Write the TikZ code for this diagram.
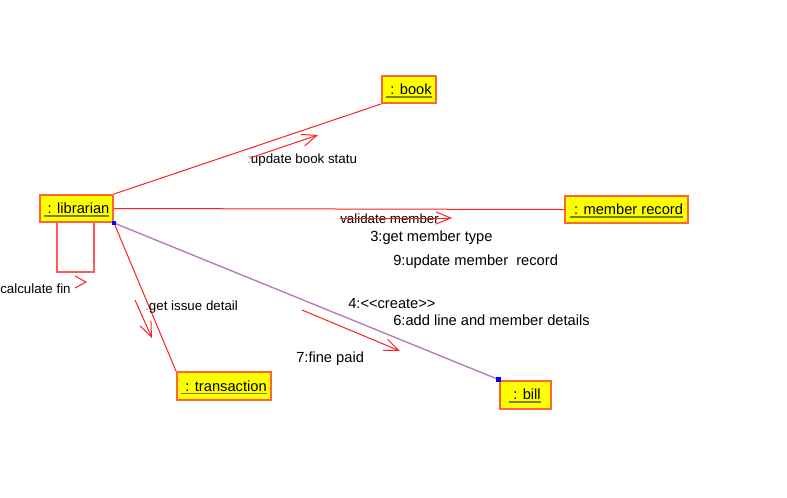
\documentclass[tikz,border=0pt]{standalone}
\usepackage{fontspec}
\setmainfont{Liberation Sans}[Ligatures=TeXOff]
\usetikzlibrary{arrows.meta,calc}
\definecolor{boxfill}{HTML}{FFFF00}
\definecolor{boxline}{HTML}{FF6633}
\definecolor{msgred}{HTML}{FF2020}
\definecolor{loopred}{HTML}{FF5A5A}
\definecolor{linkpurple}{HTML}{B878B8}
\definecolor{ulinecol}{HTML}{808000}
\definecolor{colonblue}{HTML}{70A8E0}
\newcommand\objname[1]{\setbox0\hbox{#1}\rlap{\smash{\color{ulinecol}\rule[-2.4pt]{\wd0}{1.3pt}}}\box0}
\begin{document}
\begin{tikzpicture}[x=0.75pt,y=-0.75pt,
  obj/.style={draw=boxline, line width=1.5pt, fill=boxfill, inner sep=0pt,
    minimum height=20.25pt, font=\fontsize{11}{13}\selectfont},
  link/.style={draw=msgred, line width=0.75pt},
  purplelink/.style={draw=linkpurple, line width=1pt},
  loopline/.style={draw=loopred, line width=1.1pt},
  msg/.style={draw=msgred, line width=0.75pt, -{Straight Barb[length=11pt,width=9pt]}},
  lbl/.style={inner sep=0pt, anchor=west, yshift=-1.5pt, font=\fontsize{11}{13}\selectfont},
  slbl/.style={inner sep=0pt, anchor=west, yshift=-1.5pt, font=\fontsize{10}{12}\selectfont},
  sq/.style={fill=blue, inner sep=0pt, minimum size=3.2pt}]
\useasboundingbox[fill=white] (0,0) rectangle (787,497);

% objects
\node[obj, minimum width=54.75pt] (librarian) at (76.5,208.5) {\objname{\ : librarian}};
\node[obj, minimum width=40.5pt] (book) at (409,89.5) {\objname{\ : book}};
\node[obj, minimum width=92.25pt] (member) at (626.5,209.5) {\objname{\ : member record}};
\node[obj, minimum width=70.5pt, minimum height=21pt] (transaction) at (224,386) {\objname{\ : transaction}};
\node[obj, minimum width=38.25pt, minimum height=21pt] (bill) at (525,394.5) {\objname{\ : bill}};

% links
\draw[link] (librarian.north east) -- (book.south west);
\draw[link] (librarian.east) -- (member.west);
\draw[link] (librarian.south east) -- (transaction.north west);
\draw[purplelink] (librarian.south east) -- (bill.north west);
\coordinate (la) at ($(librarian.south west)+(18,0)$);
\coordinate (lb) at ($(librarian.south west)+(55,0)$);
\draw[loopline] (la) -- ++(0,49) -| (lb);
\node[sq] (sq1) at (librarian.south east) {};
\node[sq] (sq2) at (bill.north west) {};

% messages
\node[slbl] (m0) at (0,287) {calculate fin};
\draw[msgred, line width=0.75pt] (75,276) -- (86,282) -- (75,288);

\node[slbl] (m1) at (247,158) {\textcolor{colonblue}{:}update book statu};
\draw[msg] (250,158) -- (318,135);

\node[slbl] (m2) at (340,217) {validate member};
\draw[msg] (340,218) -- (452,218);
\node[lbl] (m3) at (370,236) {3:get member type};
\node[lbl] (m4) at (393,260) {9:update member\ \ record};

\node[slbl] (m5) at (145,305) {\textcolor{colonblue}{:}get issue detail};
\draw[msg] (135,300) -- (152,338);

\node[lbl] (m6) at (348,302) {4:<<create>>};
\node[lbl] (m7) at (393,318) {6:add line and member details};
\node[lbl] (m8) at (296,357) {7:fine paid};
\draw[msg] (302,310) -- (400,351);
\end{tikzpicture}
\end{document}
